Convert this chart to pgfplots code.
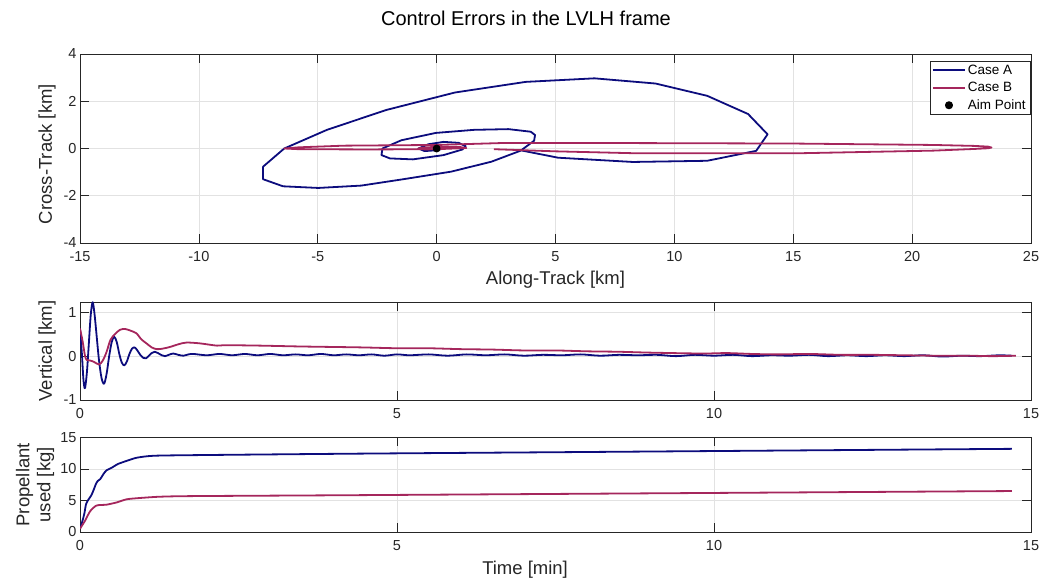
\documentclass[border=0pt]{standalone}
\usepackage{fontspec}
\setmainfont{Liberation Sans}
\usepackage{pgfplots}
\pgfplotsset{compat=1.18}
\definecolor{caseA}{RGB}{12,12,125}
\definecolor{caseB}{RGB}{165,38,92}
\definecolor{axgray}{RGB}{38,38,38}
\definecolor{gridgray}{RGB}{226,226,226}
\pgfplotsset{
  matlab/.style={
    scale only axis,
    width=951pt,
    axis line style={axgray, line width=0.7pt},
    tick style={axgray, line width=0.7pt},
    major tick length=9pt,
    tick align=inside,
    grid=major,
    major grid style={gridgray, line width=0.6pt},
    ticklabel style={font=\fontsize{14.5}{16}\selectfont, text=axgray},
    xticklabel style={yshift=-5pt},
    label style={font=\fontsize{18.5}{21}\selectfont, text=axgray},
    /pgf/number format/assume math mode=true,
    scaled ticks=false,
    every axis plot/.append style={line width=1.8pt, line join=round},
  }
}
\begin{document}
\begin{tikzpicture}[x=1pt,y=1pt]
\useasboundingbox (0,0) rectangle (1054,583);
\node[font=\fontsize{20}{23}\selectfont, text=black] at (526,565) {Control Errors in the LVLH frame};

% ---------- top axis ----------
\begin{axis}[matlab,
  at={(80pt,340pt)}, anchor=south west,
  height=189pt,
  xmin=-15, xmax=25, ymin=-4, ymax=4,
  xtick={-15,-10,...,25}, ytick={-4,-2,...,4},
  xlabel={Along-Track [km]}, ylabel={Cross-Track [km]},
  xlabel style={at={(axis description cs:0.5,-0.196)}, anchor=center},
  ylabel style={at={(axis description cs:-0.0347,0.47)}, anchor=center},
  legend style={at={(1,1)}, anchor=north east, xshift=-1pt, yshift=-7pt,
    font=\fontsize{13.5}{15}\selectfont, draw=axgray, line width=0.5pt,
    inner xsep=2pt, inner ysep=1.5pt, row sep=2.5pt, cells={anchor=west}},
  legend image code/.code={\draw[mark repeat=2,mark phase=2,#1, line width=2pt] plot coordinates {(0pt,0pt)(16pt,0pt)(32pt,0pt)};},
]
\addplot[caseA] coordinates {
(3.45,-0.06) (5.11,-0.39) (8.25,-0.57) (11.38,-0.52) (13.44,-0.10) (13.92,0.60)
(13.10,1.46) (11.38,2.23) (9.21,2.75) (6.64,2.97) (3.75,2.82) (0.77,2.37)
(-2.12,1.63) (-4.61,0.79) (-6.41,0.0) (-7.30,-0.77) (-7.30,-1.30) (-6.46,-1.60)
(-4.98,-1.67) (-3.17,-1.57) (-1.40,-1.30) (0.61,-0.98) (2.30,-0.56) (3.54,-0.09)
(4.10,0.33) (4.14,0.57) (3.96,0.71) (3.02,0.82) (1.58,0.79) (-0.03,0.66)
(-1.48,0.35) (-2.28,0.0) (-2.32,-0.28) (-1.96,-0.42) (-1.0,-0.46) (0.29,-0.28)
(1.09,-0.04) (1.22,0.10) (0.93,0.24) (0.29,0.28) (-0.35,0.18) (-0.76,0.0)
(-0.51,-0.11) (0.05,-0.07) (0.37,0.03) (0.13,0.10) (-0.2,0.05) (-0.03,-0.01) (0,0)
};
\addlegendentry{Case A}
\addplot[caseB] coordinates {
(2.41,-0.03) (5.0,-0.12) (8.3,-0.20) (15.3,-0.20) (20.9,-0.09) (22.6,-0.02)
(23.2,0.01) (23.34,0.04) (23.2,0.08) (22.6,0.11) (20.9,0.15) (15.0,0.21) (8.0,0.23)
(2.7,0.23) (0.0,0.15) (-3.9,0.12) (-5.8,0.05) (-6.41,0.0) (-5.8,-0.03)
(-3.0,-0.04) (0.0,-0.03) (1.25,0.02) (1.0,0.06) (0.0,0.07) (-0.6,0.04)
(-0.78,0.0) (-0.5,-0.04) (0.0,-0.03) (0.4,0.0) (0,0)
};
\addlegendentry{Case B}
\addplot[only marks, mark=*, mark size=3pt, black] coordinates {(0,0)};
\addlegendentry{Aim Point}
\end{axis}

% ---------- middle axis ----------
\begin{axis}[matlab,
  at={(80pt,183pt)}, anchor=south west,
  height=98pt,
  xmin=0, xmax=15, ymin=-1, ymax=1.235,
  xtick={0,5,10,15}, ytick={-1,0,1},
  ylabel={Vertical [km]},
  ylabel style={at={(axis description cs:-0.0347,0.5)}, anchor=center},
]
\addplot[caseA, smooth, tension=0.5] coordinates {
(0,0.63) (0.03,0.05) (0.055,-0.55) (0.079,-0.73) (0.11,-0.35) (0.14,0.3)
(0.17,0.95) (0.2,1.23) (0.23,0.95) (0.26,0.5) (0.3,-0.1) (0.34,-0.5)
(0.38,-0.63) (0.42,-0.4) (0.46,0.0) (0.5,0.32) (0.54,0.44) (0.58,0.32)
(0.62,0.05) (0.66,-0.15) (0.7,-0.21) (0.74,-0.12) (0.78,0.05) (0.82,0.17)
(0.86,0.2) (0.9,0.14) (0.95,0.03) (1.0,-0.04) (1.04,-0.05) (1.08,0.0)
(1.13,0.07) (1.18,0.1) (1.23,0.07) (1.29,0.02) (1.34,0.0) (1.4,0.03)
(1.47,0.06) (1.55,0.03) (1.63,0.01) (1.71,0.04) (1.79,0.05) (2.0,0.02)
(2.2,0.05) (2.4,0.02) (2.6,0.05) (2.8,0.02) (3.0,0.05) (3.2,0.02) (3.4,0.04)
(3.6,0.02) (3.8,0.05) (4.0,0.02) (4.2,0.04) (4.4,0.02) (4.6,0.04) (4.8,0.01)
(5.0,0.04) (5.2,0.02) (5.5,0.04) (5.8,0.01) (6.1,0.04) (6.4,0.02) (6.7,0.04)
(7.0,0.01) (7.3,0.03) (7.6,0.02) (7.9,0.04) (8.2,0.01) (8.5,0.03) (8.8,0.02)
(9.1,0.03) (9.4,0.0) (9.7,0.03) (10.0,0.01) (10.3,0.03) (10.6,0.0) (10.9,0.02)
(11.2,0.01) (11.5,0.03) (11.8,0.0) (12.1,0.02) (12.4,0.0) (12.7,0.02) (13.0,0.0)
(13.3,0.02) (13.6,-0.01) (13.9,0.01) (14.2,0.0) (14.5,0.02) (14.7,0.01)
};
\addplot[caseB, smooth, tension=0.5] coordinates {
(0,0.63) (0.04,0.35) (0.08,0.0) (0.11,-0.09) (0.16,-0.1) (0.22,-0.13)
(0.3,-0.19) (0.36,-0.1) (0.42,0.1) (0.48,0.37) (0.55,0.5) (0.63,0.6)
(0.71,0.62) (0.8,0.58) (0.89,0.52) (0.97,0.38) (1.05,0.29) (1.13,0.2)
(1.21,0.16) (1.3,0.17) (1.42,0.21) (1.55,0.27) (1.68,0.31) (1.9,0.29)
(2.16,0.24) (2.3,0.25) (2.84,0.24) (3.5,0.22) (4.42,0.2) (5.0,0.18)
(5.5,0.18) (6.0,0.16) (6.5,0.15) (7.0,0.13) (7.5,0.13) (8.0,0.11)
(8.5,0.1) (9.0,0.08) (9.8,0.06) (10.2,0.07) (10.6,0.05) (11.0,0.04)
(11.5,0.05) (12.0,0.03) (12.5,0.03) (13.0,0.02) (13.5,0.01) (14.0,0.01)
(14.4,0.0) (14.76,0.01)
};
\end{axis}

% ---------- bottom axis ----------
\begin{axis}[matlab,
  at={(80pt,51pt)}, anchor=south west,
  height=94.5pt,
  xmin=0, xmax=15, ymin=0, ymax=15,
  xtick={0,5,10,15}, ytick={0,5,10,15},
  xlabel={Time [min]},
  ylabel={Propellant\\used [kg]},
  xlabel style={at={(axis description cs:0.468,-0.402)}, anchor=center},
  ylabel style={at={(axis description cs:-0.0473,0.5)}, anchor=center, align=center},
]
\addplot[caseA, smooth, tension=0.4] coordinates {
(0,0.52) (0.04,1.8) (0.07,3.0) (0.095,4.4) (0.13,5.1) (0.18,5.85) (0.22,6.8)
(0.25,7.6) (0.28,8.1) (0.32,8.4) (0.37,9.2) (0.42,9.8) (0.5,10.2) (0.6,10.8)
(0.74,11.3) (0.9,11.8) (1.16,12.1) (1.8,12.2) (4.42,12.44) (8,12.7) (12,13.0) (14.7,13.2)
};
\addplot[caseB, smooth, tension=0.4] coordinates {
(0,0.52) (0.08,1.8) (0.16,3.3) (0.26,4.2) (0.42,4.34) (0.58,4.7) (0.74,5.2)
(0.95,5.4) (1.26,5.6) (1.8,5.7) (4.42,5.85) (10,6.2) (14.7,6.5)
};
\end{axis}
\end{tikzpicture}
\end{document}
